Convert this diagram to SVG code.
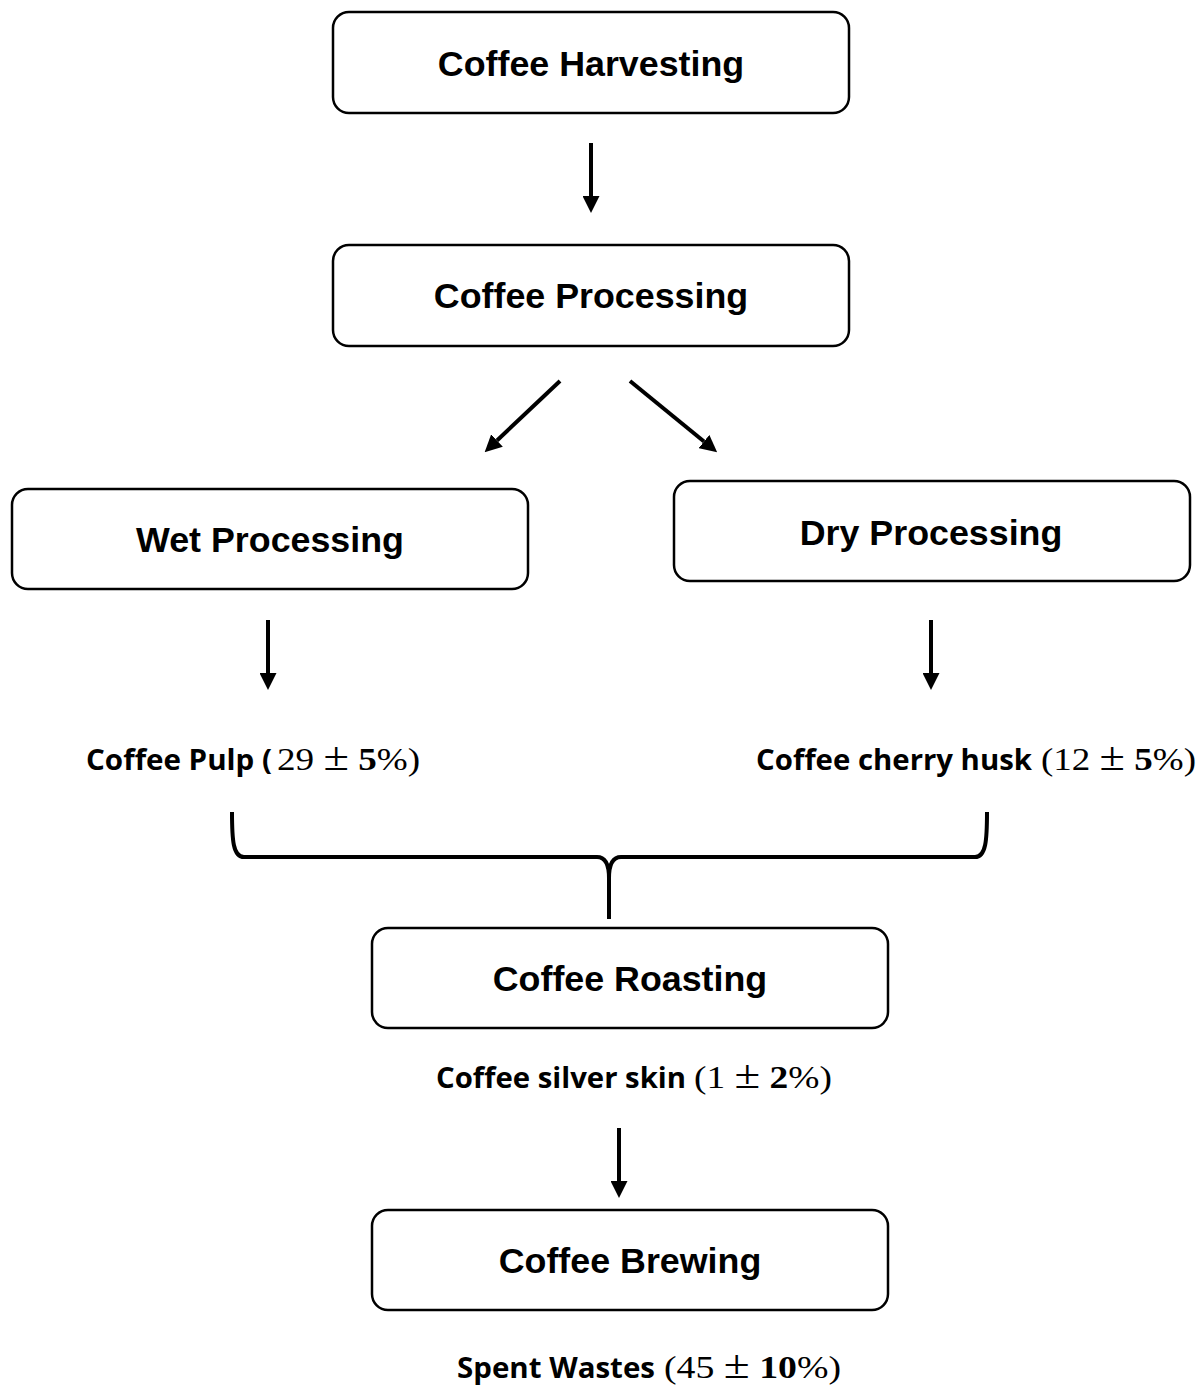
<svg xmlns="http://www.w3.org/2000/svg" width="1200" height="1385" viewBox="0 0 1200 1385">
  <style>
    .box { fill: #ffffff; stroke: #000000; stroke-width: 2.5; }
    .title { font-family: "Liberation Sans", Arial, sans-serif; font-weight: bold; font-size: 35.8px; fill: #000; text-anchor: middle; }
    .lbl { font-family: "Open Sans", "Liberation Sans", sans-serif; font-weight: bold; font-size: 29px; fill: #000; }
    .math { font-family: "Liberation Serif", "DejaVu Serif", serif; font-size: 32px; fill: #000; }
    .mb { font-weight: bold; }
    .pm { font-size: 40px; }
    .conn { stroke: #000; stroke-width: 4; fill: none; }
  </style>
  <defs>
    <marker id="head" markerUnits="userSpaceOnUse" markerWidth="17" markerHeight="17" refX="0" refY="8.5" orient="auto">
      <path d="M0,0 L17,8.5 L0,17 Z" fill="#000"/>
    </marker>
  </defs>
  <rect width="1200" height="1385" fill="#ffffff"/>

  <g id="connectors">
    <line class="conn" x1="591" y1="143" x2="591" y2="196" marker-end="url(#head)"/>
    <line class="conn" x1="560" y1="381" x2="497" y2="440.5" marker-end="url(#head)"/>
    <line class="conn" x1="630" y1="381" x2="704" y2="441.5" marker-end="url(#head)"/>
    <line class="conn" x1="268" y1="620" x2="268" y2="673" marker-end="url(#head)"/>
    <line class="conn" x1="931" y1="620" x2="931" y2="673" marker-end="url(#head)"/>
    <line class="conn" x1="619" y1="1128" x2="619" y2="1181" marker-end="url(#head)"/>
    <!-- curly brace joining both by-products into roasting -->
    <path class="conn" d="M232,812 C232,840 233,857 244,857 L597,857 C605,857 609,864 609,878 L609,919"/>
    <path class="conn" d="M987,812 C987,840 986,857 975,857 L621,857 C613,857 609,864 609,878"/>
  </g>

  <g id="harvesting">
    <rect class="box" x="333" y="12" width="516" height="101" rx="16"/>
    <text class="title" x="591" y="76">Coffee Harvesting</text>
  </g>
  <g id="processing">
    <rect class="box" x="333" y="245" width="516" height="101" rx="16"/>
    <text class="title" x="591" y="308">Coffee Processing</text>
  </g>
  <g id="wet">
    <rect class="box" x="12" y="489" width="516" height="100" rx="16"/>
    <text class="title" x="270" y="552">Wet Processing</text>
  </g>
  <g id="dry">
    <rect class="box" x="674" y="481" width="516" height="100" rx="16"/>
    <text class="title" x="931" y="545">Dry Processing</text>
  </g>
  <g id="pulp">
    <text class="lbl" x="86" y="770" textLength="186" lengthAdjust="spacingAndGlyphs">Coffee Pulp (</text>
    <text class="math" x="277" y="770" textLength="143" lengthAdjust="spacingAndGlyphs">29 <tspan class="pm">±</tspan> <tspan class="mb">5</tspan>%)</text>
  </g>
  <g id="husk">
    <text class="lbl" x="756" y="770" textLength="276" lengthAdjust="spacingAndGlyphs">Coffee cherry husk</text>
    <text class="math" x="1041" y="770" textLength="155" lengthAdjust="spacingAndGlyphs">(12 <tspan class="pm">±</tspan> <tspan class="mb">5</tspan>%)</text>
  </g>
  <g id="roasting">
    <rect class="box" x="372" y="928" width="516" height="100" rx="16"/>
    <text class="title" x="630" y="991">Coffee Roasting</text>
  </g>
  <g id="silverskin">
    <text class="lbl" x="436" y="1088" textLength="250" lengthAdjust="spacingAndGlyphs">Coffee silver skin</text>
    <text class="math" x="694" y="1088" textLength="138" lengthAdjust="spacingAndGlyphs">(1 <tspan class="pm">±</tspan> <tspan class="mb">2</tspan>%)</text>
  </g>
  <g id="brewing">
    <rect class="box" x="372" y="1210" width="516" height="100" rx="16"/>
    <text class="title" x="630" y="1273">Coffee Brewing</text>
  </g>
  <g id="spent">
    <text class="lbl" x="457" y="1378" textLength="198" lengthAdjust="spacingAndGlyphs">Spent Wastes</text>
    <text class="math" x="664" y="1378" textLength="177" lengthAdjust="spacingAndGlyphs">(45 <tspan class="pm">±</tspan> <tspan class="mb">10</tspan>%)</text>
  </g>
</svg>
